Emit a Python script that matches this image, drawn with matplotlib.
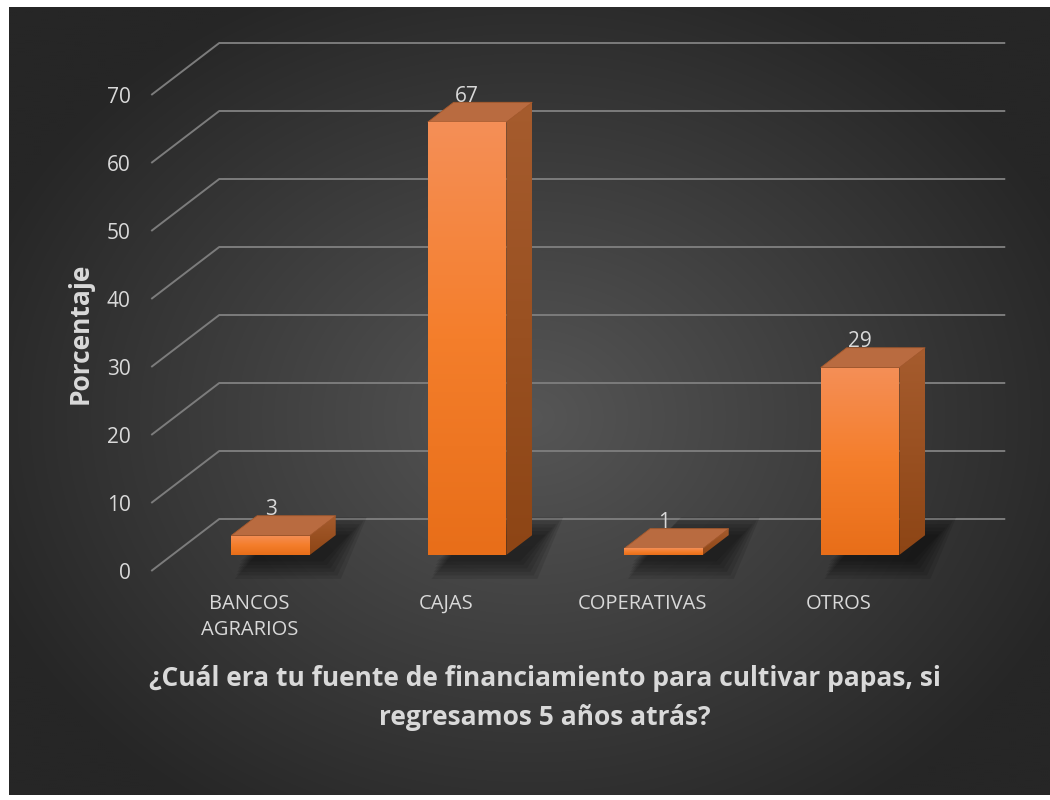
import numpy as np
import matplotlib.pyplot as plt
from matplotlib.patches import Polygon
from matplotlib.colors import LinearSegmentedColormap

# Data
categories = ['BANCOS\nAGRARIOS', 'CAJAS', 'COPERATIVAS', 'OTROS']
values = [3, 67, 1, 29]
yticks = [0, 10, 20, 30, 40, 50, 60, 70]
title = '¿Cuál era tu fuente de financiamiento para cultivar papas, si\nregresamos 5 años atrás?'
ylabel = 'Porcentaje'

W, H = 1050, 800
# pixel geometry of the back wall
X0, XSTEP = 317.5, 196.5      # px of category 0, px per category
Y0, YSTEP = 519.0, 6.8        # px (from top) of value 0, px per unit
DX = -68 / XSTEP              # floor depth shear in data units
DY = -52 / YSTEP
D_FRONT, D_BACK = 0.69, 0.31  # depth of bar front / back faces
BAR_W = 0.40
BAR_SCALE = 0.95              # bars look slightly shorter than the wall scale

TXT = '#d9d9d9'
GRID = '#7c7c7c'
FONT = 'Open Sans'

front_cmap = LinearSegmentedColormap.from_list('front', ['#f58f57', '#f47e2b', '#e86e19'])
side_cmap = LinearSegmentedColormap.from_list('side', ['#a65c2e', '#8d4515'])


def px2x(px):
    return (px - X0) / XSTEP


def px2y(py):
    return (Y0 - py) / YSTEP


def grad_poly(ax, verts, cmap, z):
    verts = np.array(verts)
    poly = Polygon(verts, closed=True, facecolor='none', edgecolor='none', zorder=z)
    ax.add_patch(poly)
    grad = np.linspace(0, 1, 256).reshape(-1, 1)
    im = ax.imshow(grad, cmap=cmap, aspect='auto', origin='upper',
                   extent=(verts[:, 0].min(), verts[:, 0].max(),
                           verts[:, 1].min(), verts[:, 1].max()),
                   zorder=z, interpolation='bilinear')
    im.set_clip_path(poly)


fig = plt.figure(figsize=(W / 100, H / 100), dpi=100)
fig.patch.set_facecolor('white')

# radial gradient background panel
bg = fig.add_axes([9 / W, 5 / H, (W - 9) / W, (795 - 7) / H])
yy, xx = np.mgrid[0:400, 0:520]
cx, cy = 0.50, 0.52
r = np.sqrt(((xx / 520 - cx) / 0.75) ** 2 + ((yy / 400 - cy) / 0.80) ** 2)
r = np.clip(r / 0.75, 0, 1)
c1 = np.array([0x56, 0x56, 0x56]) / 255
c0 = np.array([0x26, 0x26, 0x26]) / 255
img = c1[None, None, :] * (1 - r[..., None]) + c0[None, None, :] * r[..., None]
bg.imshow(img, aspect='auto', interpolation='bilinear')
bg.axis('off')

ax = fig.add_axes([0, 0, 1, 1])
ax.set_xlim(px2x(0), px2x(W))
ax.set_ylim(px2y(H), px2y(0))
ax.patch.set_alpha(0)
ax.axis('off')

# gridlines: floor-side diagonal + back wall line
xl, xr = -0.5, 3.5
for v in yticks:
    ax.plot([xl + DX, xl, xr], [v + DY, v, v], color=GRID, lw=1.4,
            solid_capstyle='butt', zorder=1)
    ax.text(xl + DX - 0.105, v + DY - 0.3, str(v), ha='right', va='center',
            color=TXT, fontsize=15, family=FONT, zorder=5)

# bars
for i, (cat, v) in enumerate(zip(categories, values)):
    h = v * BAR_SCALE
    xf = i + D_FRONT * DX
    xb = i + D_BACK * DX
    bf = D_FRONT * DY
    bb = D_BACK * DY
    fl, fr = xf - BAR_W / 2, xf + BAR_W / 2
    bl, brx = xb - BAR_W / 2, xb + BAR_W / 2

    # soft shadow on the floor
    for k in range(6, 0, -1):
        ex = k * 3.5 / XSTEP
        ey = k * 3.5 / YSTEP
        sx = 10 / XSTEP
        sy = -3 / YSTEP
        shadow = [(fl - ex * 0.3 + sx, bf - ey + sy), (fr + ex + sx, bf - ey + sy),
                  (brx + ex + sx, bb + ey + sy), (bl + ex + sx, bb + ey + sy)]
        ax.add_patch(Polygon(shadow, closed=True, facecolor='black',
                             edgecolor='none', alpha=0.10, zorder=2))

    # side face
    grad_poly(ax, [(fr, bf), (fr, bf + h), (brx, bb + h), (brx, bb)], side_cmap, 3)
    # top face
    ax.add_patch(Polygon([(fl, bf + h), (fr, bf + h), (brx, bb + h), (bl, bb + h)],
                         closed=True, facecolor='#b96b40', edgecolor='#a85a2c',
                         lw=0.6, zorder=3.5))
    # front face
    grad_poly(ax, [(fl, bf), (fr, bf), (fr, bf + h), (fl, bf + h)], front_cmap, 4)

    # value label
    ax.text(xf, bb + h + 0.9, str(v), ha='center', va='center', color=TXT,
            fontsize=15, family=FONT, zorder=6)

    # category label at the front floor edge
    ax.text(i + DX, px2y(594), cat, ha='center', va='top', color=TXT,
            fontsize=14.5, family=FONT, linespacing=1.4, zorder=5)

# axis title and chart caption
ax.text(px2x(80), px2y(333), ylabel, rotation=90, ha='center', va='center',
        color=TXT, fontsize=19, fontweight='bold', family=FONT)
ax.text(px2x(545), px2y(698), title, ha='center', va='center', color=TXT,
        fontsize=19, fontweight='bold', family=FONT, linespacing=1.55)

fig.savefig('out.png', dpi=100, facecolor='white')
